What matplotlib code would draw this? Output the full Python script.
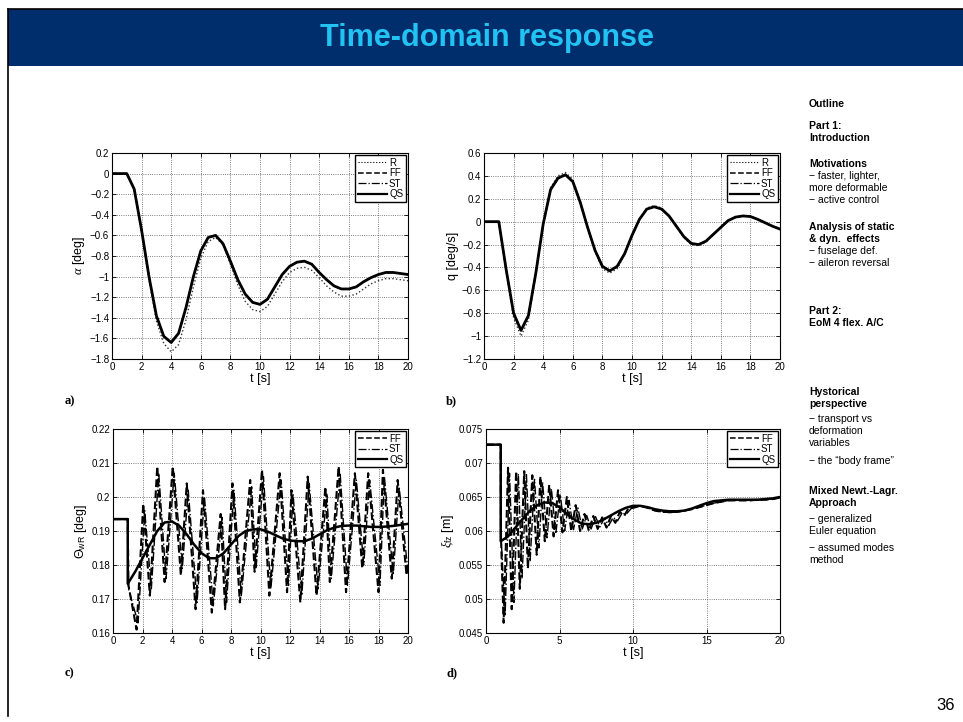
import numpy as np
import matplotlib
matplotlib.use('Agg')
import matplotlib.pyplot as plt
from matplotlib.patches import Rectangle
from matplotlib.lines import Line2D
from matplotlib.ticker import FuncFormatter, MultipleLocator

plt.rcParams['font.family'] = ['Liberation Sans', 'DejaVu Sans']
plt.rcParams['mathtext.fontset'] = 'custom'
plt.rcParams['mathtext.rm'] = 'Liberation Sans'
plt.rcParams['mathtext.it'] = 'Liberation Serif:italic'

# ---- data ----
t_ab = np.arange(0, 20.5, 0.5)

alpha_qs = [0, 0, 0, -0.15, -0.55, -1.0, -1.38, -1.58, -1.64, -1.55, -1.3, -1.0,
            -0.75, -0.62, -0.6, -0.68, -0.85, -1.03, -1.17, -1.25, -1.27, -1.22,
            -1.1, -0.98, -0.9, -0.86, -0.85, -0.88, -0.96, -1.03, -1.09, -1.12,
            -1.12, -1.1, -1.05, -1.01, -0.98, -0.96, -0.96, -0.97, -0.98]
alpha_r = [0, 0, 0, -0.15, -0.56, -1.03, -1.43, -1.65, -1.73, -1.66, -1.42, -1.1,
           -0.82, -0.66, -0.62, -0.69, -0.88, -1.08, -1.24, -1.32, -1.34, -1.29,
           -1.17, -1.05, -0.96, -0.92, -0.91, -0.94, -1.01, -1.09, -1.15, -1.19,
           -1.19, -1.17, -1.12, -1.07, -1.04, -1.02, -1.02, -1.03, -1.04]
alpha_ff = alpha_qs
alpha_st = alpha_qs

q_qs = [0, 0, 0, -0.42, -0.8, -0.95, -0.82, -0.45, -0.02, 0.28, 0.38, 0.41,
        0.35, 0.17, -0.05, -0.25, -0.39, -0.43, -0.39, -0.28, -0.12, 0.02, 0.11,
        0.13, 0.11, 0.05, -0.04, -0.13, -0.19, -0.2, -0.17, -0.11, -0.05, 0.01,
        0.04, 0.05, 0.045, 0.02, -0.01, -0.04, -0.065]
q_r = [0, 0, 0, -0.44, -0.84, -1.0, -0.86, -0.47, -0.02, 0.3, 0.4, 0.43,
       0.37, 0.18, -0.05, -0.26, -0.41, -0.45, -0.41, -0.29, -0.12, 0.02, 0.12,
       0.14, 0.12, 0.05, -0.04, -0.14, -0.2, -0.21, -0.18, -0.11, -0.05, 0.01,
       0.04, 0.05, 0.045, 0.02, -0.01, -0.04, -0.065]
q_ff = q_qs
q_st = q_qs

theta_qs = [0.1935, 0.1935, 0.1935, 0.178, 0.182, 0.186, 0.190, 0.1925, 0.1928,
            0.1915, 0.189, 0.186, 0.1835, 0.182, 0.182, 0.1835, 0.186, 0.1885,
            0.19, 0.1905, 0.1905, 0.1898, 0.1888, 0.1878, 0.1872, 0.187, 0.187,
            0.1878, 0.189, 0.1902, 0.191, 0.1915, 0.1916, 0.1916, 0.1914, 0.1912,
            0.1912, 0.1913, 0.1915, 0.1918, 0.1921]
theta_qs_jump = 0.1745

t_theta_ff = [0, 1.0, 1.05, 1.6, 2.05, 2.5, 3.0, 3.5, 4.05, 4.6, 5.0, 5.6, 6.1, 6.7,
              7.3, 7.6, 8.1, 8.6, 9.3, 9.6, 10.1, 10.6, 11.3, 11.8, 12.1, 12.7,
              13.2, 13.8, 14.4, 14.7, 15.3, 15.8, 16.4, 16.9, 17.3, 18.0, 18.3,
              18.9, 19.3, 19.9, 20.0]
theta_ff = [0.1935, 0.1935, 0.174, 0.161, 0.198, 0.171, 0.209, 0.175, 0.209, 0.177,
            0.204, 0.167, 0.202, 0.166, 0.195, 0.167, 0.204, 0.169, 0.205, 0.178,
            0.208, 0.171, 0.207, 0.172, 0.202, 0.169, 0.206, 0.171, 0.203, 0.175,
            0.209, 0.172, 0.207, 0.179, 0.207, 0.172, 0.208, 0.176, 0.205, 0.177,
            0.180]
t_theta_st = [0, 1.0, 1.05, 1.7, 2.15, 2.6, 3.1, 3.6, 4.15, 4.7, 5.1, 5.7, 6.2, 6.8,
              7.4, 7.7, 8.2, 8.7, 9.4, 9.7, 10.2, 10.7, 11.4, 11.9, 12.2, 12.8,
              13.3, 13.9, 14.5, 14.8, 15.4, 15.9, 16.5, 17.0, 17.4, 18.1, 18.4,
              19.0, 19.4, 20.0]
theta_st = [0.1935, 0.1935, 0.173, 0.163, 0.196, 0.173, 0.207, 0.176, 0.207, 0.179,
            0.202, 0.169, 0.200, 0.168, 0.194, 0.169, 0.202, 0.171, 0.203, 0.179,
            0.206, 0.173, 0.205, 0.174, 0.201, 0.171, 0.204, 0.173, 0.201, 0.176,
            0.207, 0.174, 0.205, 0.180, 0.205, 0.174, 0.206, 0.177, 0.203, 0.178]

xi_qs = [0.0727, 0.0727, 0.0727, 0.0592, 0.0605, 0.0618, 0.063, 0.0638, 0.0642,
         0.0641, 0.0635, 0.0625, 0.0617, 0.0611, 0.061, 0.0612, 0.0617, 0.0623,
         0.0629, 0.0634, 0.0637, 0.0637, 0.0635, 0.0632, 0.063, 0.0629, 0.0629,
         0.063, 0.0633, 0.0637, 0.0641, 0.0644, 0.0645, 0.0646, 0.0646, 0.0646,
         0.0646, 0.0646, 0.0647, 0.0648, 0.065]
xi_qs_jump = 0.0585

t_xi_ff = [0, 1.0, 1.02, 1.2, 1.5, 1.75, 2.05, 2.3, 2.6, 2.85, 3.15, 3.45, 3.7, 4.0,
           4.3, 4.6, 4.9, 5.2, 5.5, 5.8, 6.1, 6.4, 6.7, 7.0, 7.3, 7.6, 7.9, 8.2,
           8.5, 8.8, 9.1, 9.4, 9.7, 10, 10.5, 11, 11.5, 12, 12.5, 13, 13.5, 14,
           14.5, 15, 15.5, 16, 16.5, 17, 17.5, 18, 18.5, 19, 19.5, 20]
xi_ff = [0.0727, 0.0727, 0.059, 0.0465, 0.0693, 0.0485, 0.0688, 0.0515, 0.0688,
         0.0545, 0.0682, 0.0565, 0.068, 0.0585, 0.0668, 0.0592, 0.066, 0.0598,
         0.065, 0.06, 0.0638, 0.06, 0.0625, 0.06, 0.0622, 0.0603, 0.062, 0.0605,
         0.0622, 0.0612, 0.0628, 0.0622, 0.0634, 0.0634, 0.0637, 0.0634, 0.063,
         0.0628, 0.0628, 0.0628, 0.063, 0.0632, 0.0635, 0.0638, 0.0641, 0.0643,
         0.0645, 0.0645, 0.0645, 0.0645, 0.0646, 0.0646, 0.0647, 0.0649]
t_xi_st = [0, 1.0, 1.02, 1.3, 1.6, 1.9, 2.2, 2.45, 2.75, 3.0, 3.3, 3.6, 3.85, 4.15,
           4.45, 4.75, 5.05, 5.35, 5.65, 5.95, 6.25, 6.55, 6.85, 7.15, 7.45, 7.75,
           8.05, 8.35, 8.65, 8.95, 9.25, 9.55, 10, 10.5, 11, 11.5, 12, 12.5, 13,
           13.5, 14, 14.5, 15, 15.5, 16, 16.5, 17, 17.5, 18, 18.5, 19, 19.5, 20]
xi_st = [0.0727, 0.0727, 0.0595, 0.0475, 0.0685, 0.0495, 0.0684, 0.053, 0.0683,
         0.0555, 0.0676, 0.0575, 0.0672, 0.059, 0.0662, 0.0596, 0.0654, 0.06,
         0.0645, 0.0602, 0.0634, 0.0603, 0.0623, 0.0603, 0.0621, 0.0606, 0.0619,
         0.0608, 0.062, 0.0615, 0.0626, 0.0625, 0.0636, 0.0637, 0.0634, 0.063,
         0.0628, 0.0627, 0.0628, 0.063, 0.0632, 0.0635, 0.0638, 0.0641, 0.0643,
         0.0645, 0.0645, 0.0645, 0.0645, 0.0646, 0.0646, 0.0647, 0.0649]

sidebar = [
    ("Outline", True, 104), ("Part 1:", True, 126), ("Introduction", True, 138),
    ("Motivations", True, 164), ("\u2212 faster, lighter,", False, 176),
    ("more deformable", False, 188), ("\u2212 active control", False, 200),
    ("Analysis of static", True, 227), ("& dyn.  effects", True, 239),
    ("\u2212 fuselage def.", False, 251), ("\u2212 aileron reversal", False, 263),
    ("Part 2:", True, 311), ("EoM 4 flex. A/C", True, 323),
    ("Hystorical", True, 392), ("perspective", True, 404),
    ("\u2212 transport vs", False, 419), ("deformation", False, 431),
    ("variables", False, 443), ("\u2212 the \u201cbody frame\u201d", False, 461),
    ("Mixed Newt.-Lagr.", True, 491), ("Approach", True, 503),
    ("\u2212 generalized", False, 519), ("Euler equation", False, 531),
    ("\u2212 assumed modes", False, 548), ("method", False, 560),
]

W, H = 963, 722
fig = plt.figure(figsize=(W / 100, H / 100), dpi=100)


def px_axes(l, r, top, bot):
    return fig.add_axes([l / W, 1 - bot / H, (r - l) / W, (bot - top) / H])


def fmt(v, _):
    v = round(v, 6)
    if abs(v) < 1e-9:
        v = 0
    return ('%g' % v).replace('-', '\u2212')


def style(ax, ylim, ystep, xstep, ylabel):
    ax.set_xlim(0, 20)
    ax.set_ylim(*ylim)
    ax.xaxis.set_major_locator(MultipleLocator(xstep))
    ax.yaxis.set_major_locator(MultipleLocator(ystep))
    ax.xaxis.set_major_formatter(FuncFormatter(fmt))
    ax.yaxis.set_major_formatter(FuncFormatter(fmt))
    ax.tick_params(direction='in', length=3, width=0.6, labelsize=7,
                   top=True, right=True, pad=2)
    ax.grid(True, linestyle=':', color='#555555', linewidth=0.6)
    for s in ax.spines.values():
        s.set_linewidth(0.8)
    ax.set_xlabel('t [s]', fontsize=9, labelpad=1)
    ax.set_ylabel(ylabel, fontsize=9, labelpad=2)


def legend(ax, labels_styles):
    handles = [Line2D([], [], color='black', linestyle=ls, linewidth=lw)
               for ls, lw in labels_styles.values()]
    leg = ax.legend(handles, list(labels_styles.keys()), loc='upper right',
                    fontsize=7, handlelength=3.0, handletextpad=0.2,
                    labelspacing=0.05, borderpad=0.25, borderaxespad=0.25,
                    fancybox=False, framealpha=1)
    leg.get_frame().set_edgecolor('black')
    leg.get_frame().set_linewidth(1.0)


styles4 = {'R': (':', 0.8), 'FF': ('--', 1.1), 'ST': ('-.', 0.9), 'QS': ('-', 1.6)}
styles3 = {'FF': ('--', 1.1), 'ST': ('-.', 0.9), 'QS': ('-', 1.6)}

# a)
ax = px_axes(112, 408, 153, 359)
ax.plot(t_ab, alpha_r, ':', color='#333333', lw=1.0)
ax.plot(t_ab, alpha_ff, '--', color='black', lw=1.1)
ax.plot(t_ab, alpha_st, '-.', color='black', lw=0.9)
ax.plot(t_ab, alpha_qs, '-', color='black', lw=2.0)
style(ax, (-1.8, 0.2), 0.2, 2, r'$\alpha$ [deg]')
legend(ax, styles4)

# b)
ax = px_axes(484, 780, 153, 359)
ax.plot(t_ab, q_r, ':', color='#333333', lw=1.0)
ax.plot(t_ab, q_ff, '--', color='black', lw=1.1)
ax.plot(t_ab, q_st, '-.', color='black', lw=0.9)
ax.plot(t_ab, q_qs, '-', color='black', lw=2.0)
style(ax, (-1.2, 0.6), 0.2, 2, 'q [deg/s]')
legend(ax, styles4)

# c)
ax = px_axes(113, 408, 429, 633)
ax.plot(t_theta_ff, theta_ff, '--', color='black', lw=1.5)
ax.plot(t_theta_st, theta_st, '-.', color='black', lw=1.0)
ax.plot(list(t_ab[:3]) + [1.0] + list(t_ab[3:]),
        theta_qs[:3] + [theta_qs_jump] + theta_qs[3:], '-', color='black', lw=1.8)
style(ax, (0.16, 0.22), 0.01, 2, r'$\Theta_{\mathrm{wR}}$ [deg]')
legend(ax, styles3)

# d)
ax = px_axes(486, 780, 429, 633)
ax.plot(t_xi_ff, xi_ff, '--', color='black', lw=1.5)
ax.plot(t_xi_st, xi_st, '-.', color='black', lw=1.0)
ax.plot(list(t_ab[:3]) + [1.0] + list(t_ab[3:]),
        xi_qs[:3] + [xi_qs_jump] + xi_qs[3:], '-', color='black', lw=1.8)
style(ax, (0.045, 0.075), 0.005, 5, r'$\xi_{\mathrm{fz}}$ [m]')
legend(ax, styles3)

# panel letters
for lab, x, y in [('a)', 65, 401), ('b)', 446, 401), ('c)', 65, 673), ('d)', 446, 673)]:
    fig.text(x / W, 1 - y / H, lab, fontsize=9, fontweight='bold',
             family='Liberation Serif', va='center')

# title bar and frame
fig.patches.append(Rectangle((8 / W, 1 - 66 / H), (W - 8) / W, 57 / H,
                             transform=fig.transFigure, facecolor='#002D6B',
                             edgecolor='none'))
fig.add_artist(Line2D([8 / W, 8 / W], [1 - 9 / H, 1 - 716 / H], color='black',
                      lw=1.2, transform=fig.transFigure))
fig.add_artist(Line2D([8 / W, 1], [1 - 9 / H, 1 - 9 / H], color='black',
                      lw=1.2, transform=fig.transFigure))
fig.text(487 / W, 1 - 38 / H, 'Time-domain response', color='#22C3F3',
         fontsize=22, fontweight='bold', ha='center', va='center')

# sidebar
for txt, bold, y in sidebar:
    fig.text(809 / W, 1 - y / H, txt, fontsize=7.5,
             fontweight='bold' if bold else 'normal', va='center')

fig.text(955 / W, 1 - 706 / H, '36', fontsize=12, ha='right', va='center')

fig.savefig('out.png', dpi=100)
